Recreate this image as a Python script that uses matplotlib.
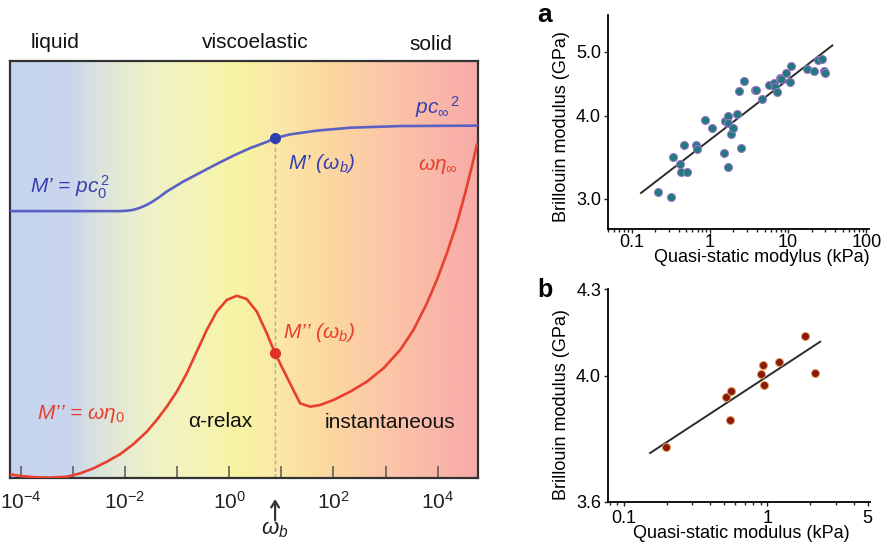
import numpy as np
import matplotlib
matplotlib.use("Agg")
import matplotlib.pyplot as plt
from matplotlib.colors import LinearSegmentedColormap
from matplotlib.ticker import LogLocator, NullLocator, NullFormatter
from matplotlib.transforms import blended_transform_factory

plt.rcParams["font.family"] = ["Liberation Sans", "DejaVu Sans"]
plt.rcParams["mathtext.fontset"] = "custom"
plt.rcParams["mathtext.rm"] = "Liberation Sans"
plt.rcParams["mathtext.it"] = "Liberation Sans:italic"
plt.rcParams["mathtext.bf"] = "Liberation Sans:bold"

W, H = 881, 543
def fx(px): return px / W
def fy(py): return 1 - py / H

# --- left schematic: log10(omega) vs relative modulus ---
storage_logw = [-4.205, -2.094, -1.960, -1.839, -1.710, -1.582, -1.455, -1.326, -1.198,
                -0.879, -0.559, -0.238, 0.081, 0.401, 0.722, 0.881, 1.169, 1.681,
                2.321, 3.280, 4.774]
storage_m = [0.640, 0.640, 0.641, 0.643, 0.648, 0.655, 0.664, 0.675, 0.687,
             0.711, 0.732, 0.753, 0.773, 0.791, 0.806, 0.815, 0.824, 0.833,
             0.840, 0.844, 0.845]
loss_logw = [-4.205, -4.013, -3.758, -3.438, -3.117, -2.862, -2.607, -2.349, -2.094, -1.839,
             -1.582, -1.390, -1.198, -1.006, -0.814, -0.622, -0.430, -0.238, -0.046, 0.146,
             0.338, 0.530, 0.722, 0.881, 1.040, 1.232, 1.361, 1.553, 1.745, 2.000,
             2.321, 2.641, 2.960, 3.280, 3.536, 3.793, 3.985, 4.177, 4.369, 4.528, 4.656, 4.752]
loss_m = [0.009, 0.005, 0.002, 0.001, 0.003, 0.011, 0.023, 0.039, 0.057, 0.081,
          0.111, 0.139, 0.171, 0.207, 0.251, 0.303, 0.355, 0.399, 0.427, 0.437,
          0.429, 0.399, 0.347, 0.299, 0.259, 0.211, 0.179, 0.171, 0.175, 0.187,
          0.207, 0.231, 0.263, 0.307, 0.355, 0.419, 0.475, 0.539, 0.611, 0.683, 0.747, 0.799]
logw_b = 0.881
storage_b = 0.815
loss_b = 0.299
decades = list(range(-4, 5))
decade_labels = [r"$10^{-4}$", "", r"$10^{-2}$", "", r"$10^{0}$", "", r"$10^{2}$", "", r"$10^{4}$"]

# --- panel a: quasi-static (kPa) vs Brillouin (GPa) ---
qs_a = [0.219, 0.321, 0.341, 0.411, 0.424, 0.506, 0.467, 0.675, 0.695, 0.871,
        1.06, 1.50, 1.56, 1.69, 1.72, 1.69, 1.86, 1.96, 2.21, 2.51,
        2.38, 2.72, 3.83, 3.91, 4.62, 5.63, 6.60, 6.73, 7.22, 7.96,
        8.20, 9.31, 10.5, 11.0, 17.2, 21.3, 23.8, 27.4, 29.1, 29.6]
bm_a = [3.07, 3.02, 3.47, 3.39, 3.29, 3.29, 3.61, 3.61, 3.57, 3.94,
        3.83, 3.52, 3.93, 4.00, 3.90, 3.35, 3.76, 3.83, 4.03, 3.58,
        4.36, 4.51, 4.37, 4.38, 4.24, 4.46, 4.49, 4.42, 4.35, 4.57,
        4.54, 4.65, 4.50, 4.76, 4.71, 4.67, 4.86, 4.88, 4.68, 4.65]
fit_a_x = [0.132, 36.8]
fit_a_y = [3.06, 5.11]

# --- panel b ---
qs_b = [0.197, 0.515, 0.558, 0.549, 0.901, 0.935, 0.946, 1.21, 1.82, 2.17]
bm_b = [3.77, 3.93, 3.95, 3.855, 4.005, 4.036, 3.97, 4.045, 4.135, 4.01]
fit_b_x = [0.153, 2.34]
fit_b_y = [3.75, 4.115]

fig = plt.figure(figsize=(W / 100, H / 100), dpi=100)

# ---------- left schematic ----------
ax = fig.add_axes([fx(10), fy(478), fx(478) - fx(10), (478 - 61) / H])
bg = LinearSegmentedColormap.from_list("bg", [
    (0.0, "#c6d4ef"), (0.13, "#c9d6ec"), (0.19, "#dce4dd"), (0.30, "#eef2c8"),
    (0.40, "#f5f4b8"), (0.50, "#f7f3a0"), (0.56, "#fbe9a8"), (0.67, "#fcd9a0"),
    (0.82, "#fbc4a8"), (1.0, "#f7aaa8")])
ax.imshow(np.linspace(0, 1, 512)[None, :], cmap=bg, aspect="auto",
          extent=[0, 1, 0, 1], transform=ax.transAxes, zorder=0)

w_s = [10.0 ** v for v in storage_logw]
w_l = [10.0 ** v for v in loss_logw]
wb = 10.0 ** logw_b
ax.plot([wb, wb], [0, storage_b], ls=(0, (3, 2)), color="#a8a8a8", lw=1.0, zorder=2)
ax.plot(w_s, storage_m, color="#5b60c4", lw=1.9, zorder=3)
ax.plot(w_l, loss_m, color="#e8402e", lw=1.9, zorder=3)
ax.plot([wb], [storage_b], "o", color="#2f3fae", ms=7, zorder=4)
ax.plot([wb], [loss_b], "o", color="#e0302a", ms=7, zorder=4)

ax.set_xscale("log")
ax.set_xlim(10 ** -4.205, 10 ** 4.774)
ax.set_ylim(0, 1)
ax.set_xticks([10.0 ** k for k in decades])
ax.set_xticklabels(decade_labels)
ax.xaxis.set_minor_locator(NullLocator())
ax.set_yticks([])
ax.tick_params(axis="x", direction="in", length=8.5, width=1.1, color="#555555",
               labelsize=15, pad=9, labelcolor="#222222")
for s in ax.spines.values():
    s.set_color("#333333"); s.set_linewidth(1.6)

blue, red = "#3a40b0", "#e8402e"
ax.text(fx(30), fy(193), r"M’ = $pc_{\mathit{0}}^{\,\mathit{2}}$", transform=fig.transFigure,
        color=blue, fontsize=15, style="italic", va="baseline")
ax.text(fx(415), fy(114), r"$pc_\infty{}^{\,\mathit{2}}$", transform=fig.transFigure, color=blue,
        fontsize=15, va="baseline")
ax.text(fx(288), fy(169), r"M’ ($\omega_b$)", transform=fig.transFigure, color=blue,
        fontsize=15, style="italic", va="baseline")
ax.text(fx(418), fy(170), r"$\omega\eta_\infty$", transform=fig.transFigure, color=red,
        fontsize=15, va="baseline")
ax.text(fx(283), fy(338), r"M’’ ($\omega_b$)", transform=fig.transFigure, color=red,
        fontsize=15, style="italic", va="baseline")
ax.text(fx(37), fy(419), r"M’’ = $\omega\eta_{\mathit{0}}$", transform=fig.transFigure,
        color=red, fontsize=15, style="italic", va="baseline")
ax.text(fx(188), fy(427), "α-relax", transform=fig.transFigure, color="#111111",
        fontsize=15, va="baseline")
ax.text(fx(325), fy(428), "instantaneous", transform=fig.transFigure, color="#111111",
        fontsize=15, va="baseline")

fig.text(fx(55), fy(42), "liquid", fontsize=15, ha="center", va="center", color="#111111")
fig.text(fx(255), fy(42), "viscoelastic", fontsize=15, ha="center", va="center", color="#111111")
fig.text(fx(431), fy(45), "solid", fontsize=15, ha="center", va="center", color="#111111")

tr = blended_transform_factory(ax.transData, ax.transAxes)
ax.annotate("", xy=(wb, -0.044), xytext=(wb, -0.108), xycoords=tr, textcoords=tr,
            arrowprops=dict(arrowstyle="->,head_length=0.45,head_width=0.28",
                            color="#333333", lw=1.6), annotation_clip=False)
ax.text(wb, -0.124, r"$\omega_b$", transform=tr, ha="center", va="center", fontsize=16,
        color="#222222")

# ---------- right panels ----------
def style_panel(a):
    for side in ("top", "right"):
        a.spines[side].set_visible(False)
    for side in ("left", "bottom"):
        a.spines[side].set_linewidth(1.3)
    a.yaxis.set_minor_locator(NullLocator())
    a.yaxis.set_minor_formatter(NullFormatter())
    a.xaxis.set_minor_locator(LogLocator(base=10, subs=np.arange(2, 10)))
    a.xaxis.set_minor_formatter(NullFormatter())
    a.tick_params(which="both", labelsize=13, width=1.0, length=3, color="#222222")
    a.tick_params(which="minor", length=2)

axa = fig.add_axes([fx(608), fy(229), fx(869) - fx(608), (229 - 15) / H])
axa.set_xscale("log"); axa.set_yscale("log")
axa.plot(fit_a_x, fit_a_y, color="#2b2b2b", lw=1.4)
axa.plot(qs_a, bm_a, "o", ms=5.8, mfc="#237982", mec="#a374c4", mew=0.7)
axa.set_xlim(0.05, 108); axa.set_ylim(2.70, 5.68)
style_panel(axa)
axa.set_yticks([3, 4, 5]); axa.set_yticklabels(["3.0", "4.0", "5.0"])
axa.set_xticks([0.1, 1, 10, 100]); axa.set_xticklabels(["0.1", "1", "10", "100"])
axa.tick_params(axis="x", pad=0.5)
axa.tick_params(axis="y", pad=2)
fig.text(fx(545), fy(15), "a", fontsize=19, weight="bold", ha="center", va="center")
fig.text(fx(562), fy(127), "Brillouin modulus (GPa)", fontsize=13, rotation=90,
         ha="center", va="center")
fig.text(fx(762), fy(258), "Quasi-static modylus (kPa)", fontsize=13, ha="center", va="center")

axb = fig.add_axes([fx(608), fy(502), fx(870) - fx(608), (502 - 289) / H])
axb.set_xscale("log"); axb.set_yscale("log")
axb.plot(fit_b_x, fit_b_y, color="#2b2b2b", lw=1.4)
axb.plot(qs_b, bm_b, "o", ms=5.8, mfc="#8a1a0a", mec="#e0a060", mew=0.7)
axb.set_xlim(0.078, 5.2); axb.set_ylim(3.6, 4.3)
style_panel(axb)
axb.set_yticks([3.6, 4.0, 4.3]); axb.set_yticklabels(["3.6", "4.0", "4.3"])
axb.set_xticks([0.1, 1, 5]); axb.set_xticklabels(["0.1", "1", "5"])
axb.tick_params(axis="x", pad=2.5)
axb.tick_params(axis="y", pad=2)
fig.text(fx(545), fy(290), "b", fontsize=18, weight="bold", ha="center", va="center")
fig.text(fx(562), fy(405), "Brillouin modulus (GPa)", fontsize=13, rotation=90,
         ha="center", va="center")
fig.text(fx(741), fy(534), "Quasi-static modulus (kPa)", fontsize=13, ha="center", va="center")

fig.savefig("out.png", dpi=100)
